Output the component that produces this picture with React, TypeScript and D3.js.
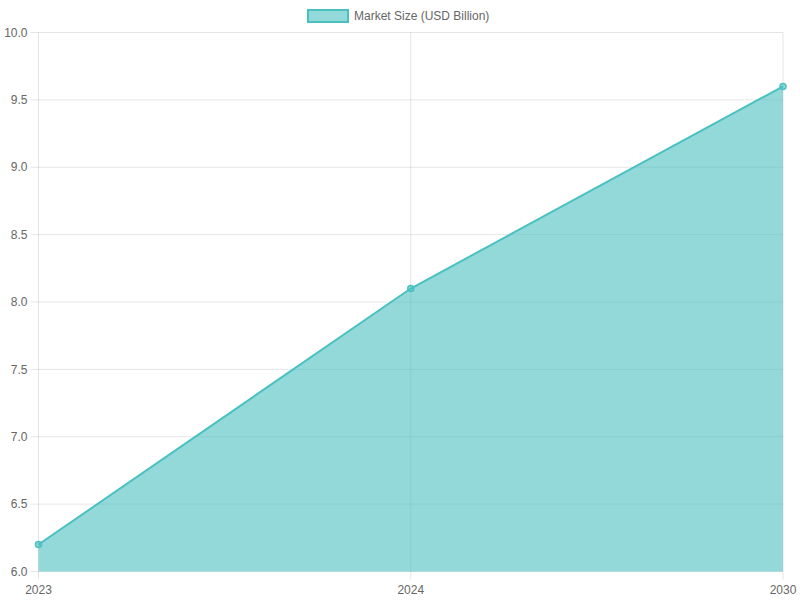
import { useRef, useEffect } from "react";
import * as d3 from "d3";

const years = ["2023", "2024", "2030"];
const marketSize = [6.2, 8.1, 9.6];
const yTicks = [6.0, 6.5, 7.0, 7.5, 8.0, 8.5, 9.0, 9.5, 10.0];
const seriesLabel = "Market Size (USD Billion)";

const FONT = "'Liberation Sans', Arial, Helvetica, sans-serif";
const TEXT = "#666";
const GRID = "rgba(0,0,0,0.1)";
const LINE = "rgb(75,192,192)";
const FILL = "rgba(75,192,192,0.6)";

export default function App() {
  const svgRef = useRef<SVGSVGElement>(null);

  useEffect(() => {
    if (!svgRef.current) return;
    const width = 800;
    const height = 600;
    const margin = { top: 32.5, right: 17, bottom: 28.5, left: 38.5 };
    const innerW = width - margin.left - margin.right;
    const innerH = height - margin.top - margin.bottom;

    const svg = d3.select(svgRef.current);
    svg.selectAll("*").remove();

    const g = svg
      .append("g")
      .attr("transform", `translate(${margin.left},${margin.top})`);

    const x = d3
      .scalePoint<string>()
      .domain(years)
      .range([0, innerW]);

    const y = d3.scaleLinear().domain([6, 10]).range([innerH, 0]);

    // horizontal grid + tick marks
    g.append("g")
      .selectAll("line")
      .data(yTicks)
      .join("line")
      .attr("x1", -8)
      .attr("x2", innerW)
      .attr("y1", (d) => y(d))
      .attr("y2", (d) => y(d))
      .attr("stroke", GRID);

    // vertical grid + tick marks
    g.append("g")
      .selectAll("line")
      .data(years)
      .join("line")
      .attr("x1", (d) => x(d)!)
      .attr("x2", (d) => x(d)!)
      .attr("y1", 0)
      .attr("y2", innerH + 8)
      .attr("stroke", GRID);

    // y labels
    g.append("g")
      .selectAll("text")
      .data(yTicks)
      .join("text")
      .attr("x", -11)
      .attr("y", (d) => y(d))
      .attr("dy", "0.35em")
      .attr("text-anchor", "end")
      .attr("fill", TEXT)
      .attr("font-size", 12)
      .attr("font-family", FONT)
      .text((d) => d.toFixed(1));

    // x labels
    g.append("g")
      .selectAll("text")
      .data(years)
      .join("text")
      .attr("x", (d) => x(d)!)
      .attr("y", innerH + 22)
      .attr("text-anchor", "middle")
      .attr("fill", TEXT)
      .attr("font-size", 12)
      .attr("font-family", FONT)
      .text((d) => d);

    const pts = marketSize.map((v, i) => [x(years[i])!, y(v)] as [number, number]);

    const area = d3
      .area<[number, number]>()
      .x((d) => d[0])
      .y0(innerH)
      .y1((d) => d[1]);

    g.append("path").attr("d", area(pts)!).attr("fill", FILL);

    g.append("path")
      .attr("d", d3.line()(pts)!)
      .attr("fill", "none")
      .attr("stroke", LINE)
      .attr("stroke-width", 2);

    g.append("g")
      .selectAll("circle")
      .data(pts)
      .join("circle")
      .attr("cx", (d) => d[0])
      .attr("cy", (d) => d[1])
      .attr("r", 3)
      .attr("fill", FILL)
      .attr("stroke", LINE)
      .attr("stroke-width", 1.5);

    // legend
    const legend = svg.append("g");
    legend
      .append("rect")
      .attr("x", 308)
      .attr("y", 10)
      .attr("width", 40)
      .attr("height", 12)
      .attr("fill", FILL)
      .attr("stroke", LINE)
      .attr("stroke-width", 2);
    legend
      .append("text")
      .attr("x", 354)
      .attr("y", 16)
      .attr("dy", "0.35em")
      .attr("fill", TEXT)
      .attr("font-size", 12)
      .attr("font-family", FONT)
      .text(seriesLabel);
  }, []);

  return (
    <svg
      ref={svgRef}
      width={800}
      height={600}
      style={{ position: "absolute", left: 0, top: 0 }}
    />
  );
}
